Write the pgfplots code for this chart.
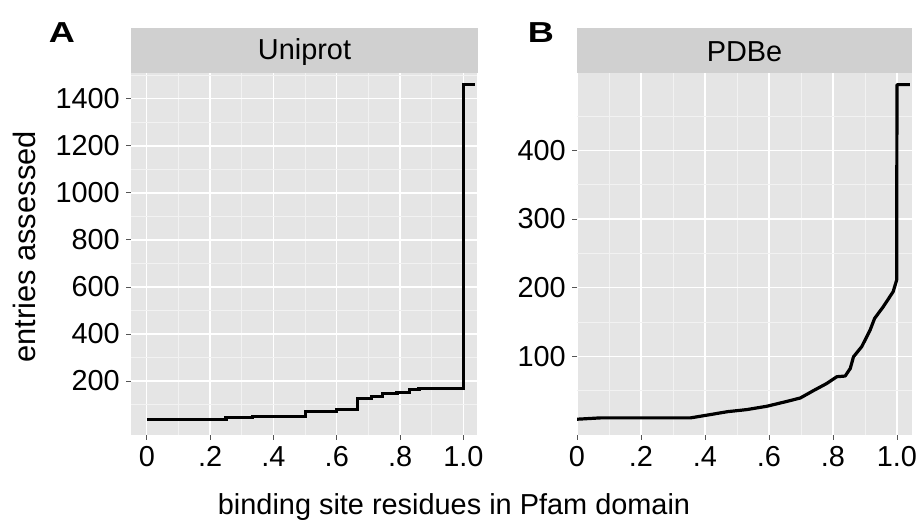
\documentclass[border=0pt]{standalone}
\usepackage{pgfplots}
\pgfplotsset{compat=1.18}
\usepackage{fontspec}
\setmainfont{Liberation Sans}
\definecolor{panelbg}{HTML}{E5E5E5}
\definecolor{stripbg}{HTML}{D0D0D0}
\definecolor{tickgray}{HTML}{555555}
\pgfplotsset{
  ggstyle/.style={
    scale only axis,
    anchor=south west,
    axis background/.style={fill=panelbg},
    axis line style={draw=none},
    grid=both,
    major grid style={white,line width=1.3bp},
    minor grid style={white!50!panelbg,line width=0.7bp},
    minor tick length=0pt,
    tick align=outside,
    major tick length=5bp,
    tick style={tickgray,line width=0.8bp},
    xtick pos=bottom, ytick pos=left,
    /pgf/number format/assume math mode=true,
    tick label style={font=\fontsize{29}{31}\selectfont},
    yticklabel style={inner sep=0pt, xshift=-6bp},
    xticklabel style={inner sep=0pt, yshift=-6bp},
    xtick={0,0.2,0.4,0.6,0.8,1.0},
    xticklabels={0,.2,.4,.6,.8,1.0},
    scaled ticks=false,
    yticklabel={\pgfmathprintnumber[fixed,precision=0,1000 sep={}]{\tick}},
  }
}
\begin{document}
\begin{tikzpicture}[x=1bp,y=1bp]
\path (0,0) rectangle (921,523);
% panel A
\begin{axis}[ggstyle,
  at={(131bp,88bp)}, width=346bp, height=362bp,
  xmin=-0.05, xmax=1.043, ymin=-30, ymax=1510,
  ytick={200,400,600,800,1000,1200,1400},
  minor ytick={100,300,500,700,900,1100,1300,1500},
  minor xtick={0.1,0.3,0.5,0.7,0.9},
]
\addplot[const plot, black, line width=3.2bp] coordinates {
(0,37) (0.25,44) (0.335,48) (0.5,69) (0.6,77) (0.665,126) (0.71,133)
(0.745,145) (0.79,150) (0.83,162) (0.86,169) (1.0,1460) (1.036,1460)
};
\end{axis}
% panel B
\begin{axis}[ggstyle,
  at={(577bp,88bp)}, width=335bp, height=362bp,
  xmin=0, xmax=1.047, ymin=-15, ymax=513,
  ytick={100,200,300,400},
  minor ytick={50,150,250,350,450},
  minor xtick={0.1,0.3,0.5,0.7,0.9},
]
\addplot[black, line width=3.2bp, line join=round] coordinates {
(0,8) (0.075,10) (0.355,10) (0.407,14) (0.47,19) (0.53,22) (0.594,27)
(0.656,34) (0.698,39) (0.74,50) (0.78,60) (0.812,70) (0.838,71) (0.854,82)
(0.864,99) (0.89,114) (0.916,138) (0.93,155) (0.957,172) (0.988,194)
(0.999,211) (1.0,496) (1.04,496)
};
\end{axis}
% strips
\fill[stripbg] (131,450) rectangle (478,495);
\node[font=\fontsize{29}{31}\selectfont] at (304.5,471) {Uniprot};
\fill[stripbg] (577,450) rectangle (912,495);
\node[font=\fontsize{29}{31}\selectfont] at (744.5,471) {PDBe};
% panel letters
\node[font=\fontsize{29}{31}\selectfont\bfseries, xscale=1.25] at (62,490) {A};
\node[font=\fontsize{29}{31}\selectfont\bfseries, xscale=1.25] at (541,490) {B};
% axis titles
\node[rotate=90,font=\fontsize{31}{33}\selectfont] at (24,276) {entries assessed};
\node[font=\fontsize{29}{31}\selectfont] at (454,16) {binding site residues in Pfam domain};
\end{tikzpicture}
\end{document}
